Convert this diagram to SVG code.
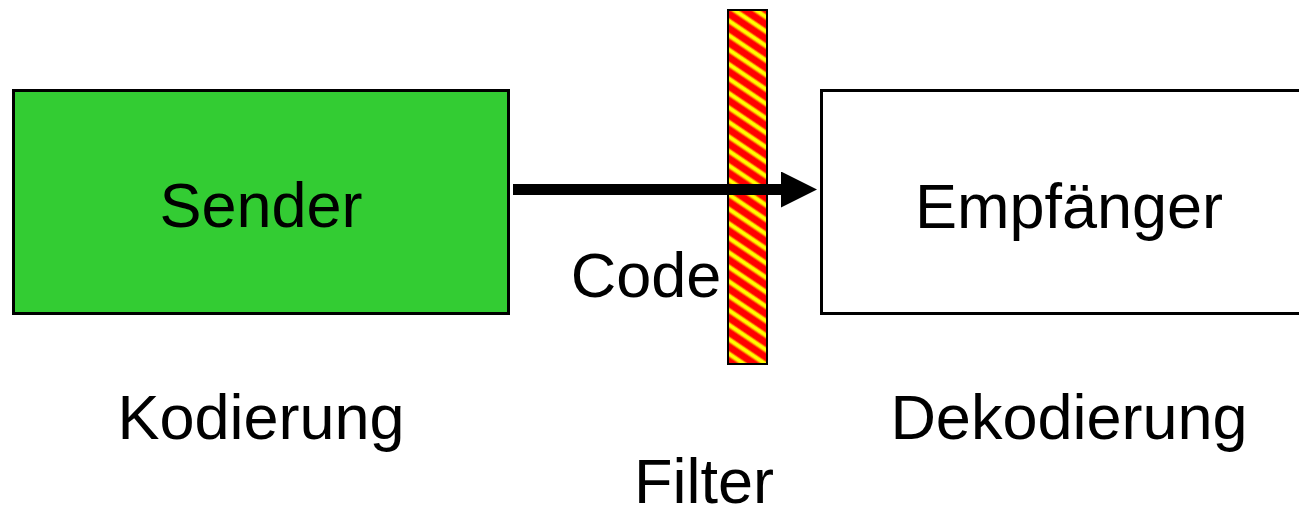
<svg xmlns="http://www.w3.org/2000/svg" width="1299" height="510" viewBox="0 0 1299 510">
  <style>
    .box { stroke: #000; stroke-width: 3; }
    .label { font-family: "Liberation Sans", Arial, sans-serif; font-size: 63px; fill: #000; text-anchor: middle; }
  </style>
  <defs>
    <!-- soft red/yellow band used for the filter hatching -->
    <linearGradient id="band" x1="0" y1="0" x2="0" y2="1">
      <stop offset="0" stop-color="#ff0000"/>
      <stop offset="0.2" stop-color="#ff0000"/>
      <stop offset="0.38" stop-color="#ffff00"/>
      <stop offset="0.58" stop-color="#ffff00"/>
      <stop offset="0.76" stop-color="#ff0000"/>
      <stop offset="1" stop-color="#ff0000"/>
    </linearGradient>
    <pattern id="hatch" width="12" height="12" patternUnits="userSpaceOnUse" patternTransform="rotate(34)">
      <rect width="12" height="12" fill="url(#band)"/>
    </pattern>
    <marker id="head" markerWidth="36" markerHeight="36" refX="0" refY="18" orient="auto" markerUnits="userSpaceOnUse">
      <path d="M0,0 L36,18 L0,36 Z" fill="#000"/>
    </marker>
  </defs>

  <g id="sender">
    <rect class="box" x="13.5" y="90.5" width="495" height="223" fill="#33cc33"/>
    <text class="label" x="261" y="227">Sender</text>
  </g>

  <g id="empfaenger">
    <rect class="box" x="821.5" y="90.5" width="500" height="223" fill="#ffffff"/>
    <text class="label" x="1069" y="228">Empfänger</text>
  </g>

  <g id="filter">
    <rect x="728" y="10" width="39" height="354" fill="url(#hatch)" stroke="#000" stroke-width="2"/>
  </g>

  <g id="connectors">
    <line x1="513" y1="189.5" x2="781" y2="189.5" stroke="#000" stroke-width="11" marker-end="url(#head)"/>
  </g>

  <g id="labels">
    <text class="label" x="646" y="297">Code</text>
    <text class="label" x="261" y="439">Kodierung</text>
    <text class="label" x="1069" y="439">Dekodierung</text>
    <text class="label" x="704" y="503">Filter</text>
  </g>
</svg>
